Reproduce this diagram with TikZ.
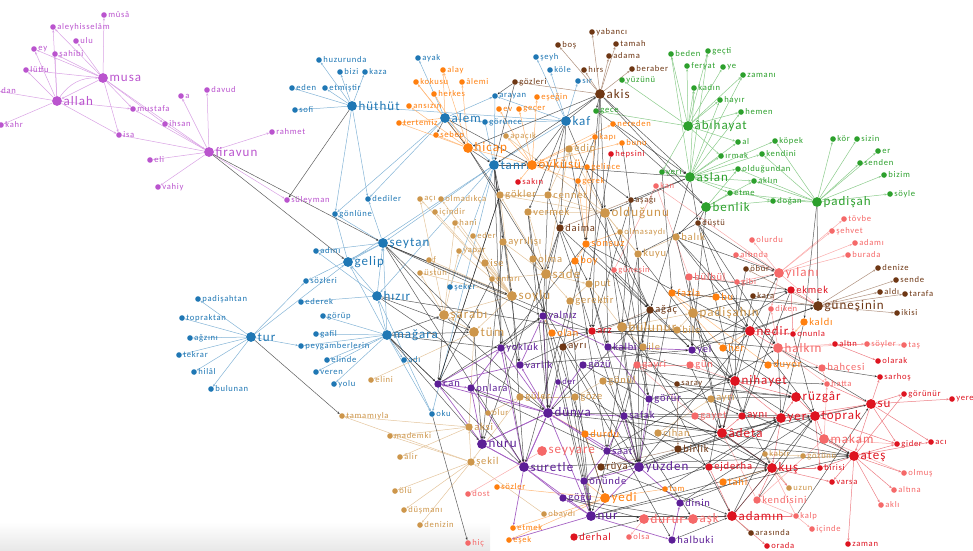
\documentclass[tikz,border=0pt]{standalone}
\usepackage{fontspec}
\setmainfont{Carlito}
\newfontfamily\lblfont[LetterSpace=8]{Carlito}
\usetikzlibrary{arrows.meta}
\definecolor{cP}{RGB}{186,84,206}
\definecolor{cB}{RGB}{31,119,180}
\definecolor{cO}{RGB}{255,127,14}
\definecolor{cG}{RGB}{44,160,44}
\definecolor{cBr}{RGB}{110,55,20}
\definecolor{cT}{RGB}{205,150,75}
\definecolor{cR}{RGB}{222,20,32}
\definecolor{cK}{RGB}{245,105,105}
\definecolor{cV}{RGB}{92,30,150}
\pgfdeclarelayer{bg}\pgfsetlayers{bg,main}
\tikzset{
 dot/.style={circle,inner sep=0pt,draw=none},
 lbl/.style={inner sep=0.4pt},
 arr/.style={-{Stealth[length=2.6pt,width=2.2pt]}},
 e/.style={draw=#1!55,line width=.5pt,arr},
 ev/.style={draw=cV!45!cP!80,line width=.7pt,arr},
 d/.style={draw=black!85,line width=.5pt,draw opacity=.75,arr},
}
\newcommand\ns[5]{\node[dot,minimum size=5.6pt,fill=#4,label={[lbl,text=#4]right:\lblfont\fontsize{8.6}{9}\selectfont #5}] (#1) at (#2,#3) {};}
\newcommand\nm[5]{\node[dot,minimum size=7.4pt,fill=#4,label={[lbl,text=#4]right:\lblfont\fontsize{10.5}{11}\selectfont #5}] (#1) at (#2,#3) {};}
\newcommand\nl[5]{\node[dot,minimum size=9.8pt,fill=#4,label={[lbl,text=#4]right:\lblfont\fontsize{13}{14}\selectfont #5}] (#1) at (#2,#3) {};}
\begin{document}
\begin{tikzpicture}[x=1pt,y=-1pt,label distance=0.8pt]
\useasboundingbox (0,0) rectangle (973,550);
\clip (0,0) rectangle (973,550);
% ---------- purple
\nl{musa}{103}{78}{cP}{musa}
\nl{allah}{57}{101}{cP}{allah}
\nl{firavun}{209}{152}{cP}{firavun}
\ns{musaa}{104}{15}{cP}{mûsâ}
\ns{aley}{53}{27}{cP}{aleyhisselâm}
\ns{ulu}{76}{41}{cP}{ulu}
\ns{ey}{34}{49}{cP}{ey}
\ns{sahibi}{55}{54}{cP}{şahibi}
\ns{lutfu}{26}{70}{cP}{lütfu}
\ns{dan}{-3}{91}{cP}{dan}
\ns{kahr}{1}{125}{cP}{kahr}
\ns{pa}{181}{96}{cP}{a}
\ns{davud}{207}{90}{cP}{davud}
\ns{mustafa}{133}{109}{cP}{mustafa}
\ns{ihsan}{165}{124}{cP}{ihsan}
\ns{isa}{119}{135}{cP}{isa}
\ns{eli}{150}{160}{cP}{eli}
\ns{rahmet}{272}{132}{cP}{rahmet}
\ns{vahiy}{158}{187}{cP}{vahiy}
\ns{suleyman}{287}{200}{cP}{süleyman}
% ---------- blue
\nl{huthut}{352}{106}{cB}{hüthüt}
\ns{huzurunda}{319}{60}{cB}{huzurunda}
\ns{bizi}{340}{72}{cB}{bizi}
\ns{kaza}{365}{72}{cB}{kaza}
\ns{eden}{292}{88}{cB}{eden}
\ns{etmistir}{325}{88}{cB}{etmiştir}
\ns{sofi}{295}{110}{cB}{sofi}
\ns{ayak}{418}{58}{cB}{ayak}
\nl{alem}{445}{118}{cB}{alem}
\ns{gorunce}{485}{122}{cB}{görünce}
\ns{seyh}{536}{57}{cB}{şeyh}
\ns{kole}{550}{70}{cB}{köle}
\ns{sir}{578}{81}{cB}{sır}
\ns{arayan}{495}{96}{cB}{arayan}
\nl{kaf}{566}{121}{cB}{kaf}
\nl{tanri}{494}{165}{cB}{tanrı}
\ns{dediler}{368}{199}{cB}{dediler}
\ns{gonlune}{335}{214}{cB}{gönlüne}
\nl{seytan}{383}{243}{cB}{şeytan}
\ns{adini}{316}{251}{cB}{adını}
\nl{gelip}{348}{262}{cB}{gelip}
\ns{sozleri}{306}{281}{cB}{sözleri}
\ns{seker}{450}{287}{cB}{şeker}
\nl{hizir}{377}{296}{cB}{hızır}
\ns{ederek}{301}{302}{cB}{ederek}
\ns{gorup}{323}{316}{cB}{görüp}
\ns{gafil}{316}{334}{cB}{gafil}
\nl{magara}{387}{335}{cB}{mağara}
\nl{tur}{251}{337}{cB}{tur}
\ns{peyg}{301}{346}{cB}{peygamberlerin}
\ns{elinde}{327}{360}{cB}{elinde}
\ns{adi}{404}{360}{cB}{adı}
\ns{veren}{316}{372}{cB}{veren}
\ns{yolu}{334}{384}{cB}{yolu}
\ns{oku}{432}{414}{cB}{oku}
\ns{padisahtan}{198}{299}{cB}{padişahtan}
\ns{topraktan}{182}{318}{cB}{topraktan}
\ns{agzini}{190}{338}{cB}{ağzını}
\ns{tekrar}{179}{355}{cB}{tekrar}
\ns{hilal}{194}{372}{cB}{hilâl}
\ns{bulunan}{211}{389}{cB}{bulunan}
% ---------- orange
\ns{alay}{443}{70}{cO}{alay}
\ns{kokusu}{416}{82}{cO}{kokusu}
\ns{alemi}{462}{82}{cO}{âlemi}
\ns{herkes}{434}{94}{cO}{herkes}
\ns{ansizin}{409}{106}{cO}{ansızın}
\ns{tertemiz}{399}{123}{cO}{tertemiz}
\ns{sebep}{436}{135}{cO}{sebep}
\nl{hicap}{468}{148}{cO}{hicap}
\ns{esegin}{537}{97}{cO}{eşeğin}
\ns{ev}{499}{109}{cO}{ev}
\ns{gecer}{519}{109}{cO}{geçer}
\ns{nereden}{613}{124}{cO}{nereden}
\ns{kapi}{595}{137}{cO}{kapı}
\ns{bunu}{622}{143}{cO}{bunu}
\nl{oykusu}{532}{165}{cO}{öyküsü}
\ns{gelince}{587}{167}{cO}{gelince}
\ns{gerek}{578}{181}{cO}{gerek}
\nm{sonsuz}{586}{244}{cO}{sonsuz}
\nm{boy}{575}{261}{cO}{boy}
\nm{fazla}{672}{293}{cO}{fazla}
\nm{obu}{716}{297}{cO}{bu}
\nm{olan}{552}{333}{cO}{olan}
\nm{her}{723}{348}{cO}{her}
\nm{duyor}{768}{365}{cO}{duyor}
\nm{kaldi}{804}{322}{cO}{kaldı}
\nm{durdu}{585}{434}{cO}{durdu}
\ns{sozler}{497}{487}{cO}{sözler}
\nl{yedi}{605}{498}{cO}{yedi}
\ns{tam}{665}{489}{cO}{tam}
\nm{tahi}{723}{482}{cO}{tahi}
\ns{etmek}{513}{528}{cO}{etmek}
\ns{esek}{509}{540}{cO}{eşek}
% ---------- green
\nl{abihayat}{688}{126}{cG}{âbıhayat}
\nl{aslan}{690}{177}{cG}{aslan}
\nl{benlik}{706}{207}{cG}{benlik}
\nl{padisah}{817}{202}{cG}{padişah}
\ns{beden}{671}{54}{cG}{beden}
\ns{gecti}{708}{51}{cG}{geçti}
\ns{feryat}{687}{66}{cG}{feryat}
\ns{ye}{723}{67}{cG}{ye}
\ns{zamani}{743}{75}{cG}{zamanı}
\ns{kadin}{694}{88}{cG}{kadın}
\ns{hayir}{720}{100}{cG}{hayır}
\ns{hemen}{741}{112}{cG}{hemen}
\ns{yuzunu}{622}{80}{cG}{yüzünü}
\ns{gece}{596}{111}{cG}{gece}
\ns{al}{738}{142}{cG}{al}
\ns{kopek}{775}{141}{cG}{köpek}
\ns{irmak}{721}{156}{cG}{ırmak}
\ns{kendini}{762}{154}{cG}{kendini}
\ns{oldugundan}{738}{169}{cG}{olduğundan}
\ns{aklin}{754}{181}{cG}{aklın}
\ns{yeri}{662}{172}{cG}{yeri}
\ns{etme}{730}{193}{cG}{etme}
\ns{dogan}{773}{201}{cG}{doğan}
\ns{kor}{833}{139}{cG}{kör}
\ns{sizin}{857}{139}{cG}{sizin}
\ns{er}{878}{151}{cG}{er}
\ns{senden}{860}{163}{cG}{senden}
\ns{bizim}{884}{175}{cG}{bizim}
\ns{soyle}{890}{194}{cG}{söyle}
% ---------- brown
\nl{akis}{600}{94}{cBr}{akis}
\ns{yabanci}{592}{32}{cBr}{yabancı}
\ns{bos}{558}{45}{cBr}{boş}
\ns{tamah}{616}{44}{cBr}{tamah}
\ns{adama}{609}{56}{cBr}{adama}
\ns{hirs}{584}{70}{cBr}{hırs}
\ns{beraber}{632}{69}{cBr}{beraber}
\ns{gozleri}{515}{82}{cBr}{gözleri}
\ns{asagi}{631}{200}{cBr}{aşağı}
\ns{dustu}{698}{223}{cBr}{düştü}
\nm{daima}{560}{228}{cBr}{daima}
\nm{agac}{650}{310}{cBr}{ağaç}
\nm{bra}{563}{347}{cBr}{ayrı}
\ns{obur}{746}{269}{cBr}{öbür}
\ns{kara}{753}{296}{cBr}{kara}
\nl{gunesinin}{818}{306}{cBr}{güneşinin}
\ns{denize}{878}{268}{cBr}{denize}
\ns{sende}{896}{280}{cBr}{sende}
\ns{aldi}{880}{292}{cBr}{aldı}
\ns{tarafa}{905}{294}{cBr}{tarafa}
\ns{ikisi}{897}{313}{cBr}{ikisi}
\ns{brb}{677}{384}{cBr}{saray}
\nm{birlik}{678}{449}{cBr}{birlik}
\nm{brc}{601}{467}{cBr}{rüya}
\ns{arasinda}{751}{533}{cBr}{arasında}
% ---------- tan
\ns{apacik}{506}{136}{cT}{apaçık}
\nm{edip}{569}{149}{cT}{edip}
\nm{gokler}{500}{195}{cT}{gökler}
\nm{cennet}{548}{195}{cT}{cennet}
\nm{vermek}{528}{212}{cT}{vermek}
\nl{oldugunu}{605}{213}{cT}{olduğunu}
\ns{olmasaydi}{620}{232}{cT}{olmasaydı}
\nm{ayrilis}{503}{242}{cT}{ayrılışı}
\nm{balik}{676}{237}{cT}{balık}
\nm{kuyu}{638}{254}{cT}{kuyu}
\nm{olant}{533}{259}{cT}{olma}
\nl{sade}{546}{274}{cT}{sade}
\ns{onlari}{492}{279}{cT}{onları}
\nm{put}{589}{284}{cT}{put}
\nl{soylu}{512}{296}{cT}{soylu}
\nm{gerektir}{570}{301}{cT}{gerektir}
\nl{padisahin}{693}{313}{cT}{padişahın}
\nl{bulunur}{622}{327}{cT}{bulunur}
\nm{ta}{677}{330}{cT}{bile}
\nm{tb}{643}{347}{cT}{ile}
\ns{aci}{420}{199}{cT}{açı}
\ns{olmadikca}{441}{199}{cT}{olmadıkça}
\ns{icindir}{435}{212}{cT}{içindir}
\ns{hani}{455}{223}{cT}{hani}
\ns{et}{473}{236}{cT}{eder}
\ns{yapar}{459}{251}{cT}{yapar}
\ns{ft}{429}{260}{cT}{f}
\ns{ustun}{420}{273}{cT}{üstün}
\nm{tc}{485}{263}{cT}{ise}
\nl{sarabi}{444}{315}{cT}{şarabı}
\nl{td}{474}{332}{cT}{tüm}
\ns{elini}{371}{380}{cT}{elini}
\ns{tamamiyla}{342}{416}{cT}{tamamıyla}
\nm{te}{469}{427}{cT}{aksi}
\ns{mademki}{390}{436}{cT}{mademki}
\ns{alir}{400}{457}{cT}{âlir}
\nm{tf}{471}{462}{cT}{şekil}
\ns{olu}{395}{491}{cT}{ölü}
\ns{dusmani}{404}{510}{cT}{düşmanı}
\ns{denizin}{420}{525}{cT}{denizin}
\nm{tg}{603}{381}{cT}{gönül}
\nm{guler}{520}{397}{cT}{güler}
\nm{th}{575}{397}{cT}{göze}
\nm{ti}{711}{399}{cT}{ayrı}
\ns{tj}{488}{413}{cT}{olur}
\nm{tk}{658}{433}{cT}{cihan}
\ns{obaydi}{544}{514}{cT}{obaydı}
\ns{kabir}{765}{454}{cT}{kabir}
\ns{gozunu}{803}{456}{cT}{gözünü}
\ns{uzun}{789}{488}{cT}{uzun}
% ---------- red
\ns{hepsini}{611}{154}{cR}{hepsini}
\ns{sakin}{518}{182}{cR}{sakın}
\nm{arz}{592}{331}{cR}{arz}
\nl{nedir}{750}{331}{cR}{nedir}
\nm{ekmek}{791}{290}{cR}{ekmek}
\ns{onunla}{793}{334}{cR}{onunla}
\ns{altin}{835}{344}{cR}{altın}
\ns{olarak}{878}{361}{cR}{olarak}
\nl{nihayet}{735}{381}{cR}{nihayet}
\ns{sarhos}{880}{377}{cR}{sarhoş}
\ns{gorunur}{904}{394}{cR}{görünür}
\ns{yere}{952}{399}{cR}{yere}
\nl{ruzgar}{796}{397}{cR}{rüzgâr}
\nl{su}{871}{404}{cR}{su}
\nm{ayni}{742}{416}{cR}{aynı}
\nl{yer}{781}{418}{cR}{yer}
\nl{toprak}{815}{416}{cR}{toprak}
\nl{adeta}{722}{433}{cR}{âdeta}
\ns{gider}{897}{444}{cR}{gider}
\ns{acir}{931}{442}{cR}{acı}
\nl{ates}{854}{456}{cR}{ateş}
\nm{ejderha}{709}{467}{cR}{ejderha}
\nl{kus}{772}{468}{cR}{kuş}
\ns{birisi}{820}{468}{cR}{birisi}
\ns{varsa}{832}{482}{cR}{varsa}
\nl{adamin}{732}{516}{cR}{adamın}
\ns{zaman}{848}{544}{cR}{zaman}
\ns{orada}{767}{546}{cR}{orada}
\nm{derhal}{574}{537}{cR}{derhal}
% ---------- pink
\ns{kan}{656}{186}{cK}{kan}
\ns{gunesin}{614}{270}{cK}{güneşin}
\nm{bulbul}{689}{277}{cK}{bülbül}
\ns{tovbe}{844}{219}{cK}{tövbe}
\ns{sehvet}{832}{231}{cK}{şehvet}
\ns{olurdu}{752}{240}{cK}{olurdu}
\ns{adami}{855}{243}{cK}{adamı}
\ns{altinda}{736}{255}{cK}{altında}
\ns{burada}{848}{255}{cK}{burada}
\nl{yilani}{779}{273}{cK}{yılanı}
\ns{gibi}{737}{282}{cK}{gibi}
\ns{diken}{771}{309}{cK}{diken}
\ns{soyler}{867}{344}{cK}{söyler}
\ns{tas}{904}{345}{cK}{taş}
\nl{halkin}{778}{348}{cK}{halkın}
\nm{bahcesi}{822}{368}{cK}{bahçesi}
\ns{hatta}{827}{384}{cK}{hatta}
\nl{makam}{824}{439}{cK}{makam}
\ns{olmus}{904}{473}{cK}{olmuş}
\ns{altina}{894}{490}{cK}{altına}
\nm{kendisini}{757}{500}{cK}{kendisini}
\ns{akli}{881}{505}{cK}{aklı}
\ns{kalp}{796}{516}{cK}{kalp}
\ns{icinde}{812}{529}{cK}{içinde}
\nm{ka}{637}{365}{cK}{gayri}
\nm{kb}{690}{365}{cK}{gün}
\nm{gayet}{695}{416}{cK}{gayet}
\nl{seyyare}{542}{451}{cK}{seyyare}
\ns{dost}{468}{494}{cK}{dost}
\ns{kc}{468}{543}{cK}{hiç}
\nl{kd}{644}{519}{cK}{durur}
\nl{ask}{693}{519}{cK}{aşk}
\ns{ke}{629}{537}{cK}{olsa}
% ---------- violet
\nm{yalniz}{543}{316}{cV}{yalnız}
\nm{yokluk}{501}{348}{cV}{yokluk}
\nm{vkalp}{608}{347}{cV}{kalbi}
\nm{yel}{692}{350}{cV}{yel}
\nm{can}{438}{384}{cV}{can}
\nm{onlara}{471}{388}{cV}{onlara}
\nm{varlik}{520}{365}{cV}{varlık}
\nm{vg}{583}{365}{cV}{gözü}
\ns{der}{558}{382}{cV}{der}
\nm{gorur}{649}{399}{cV}{görür}
\nl{dunya}{548}{413}{cV}{dünya}
\nm{satag}{624}{416}{cV}{şafak}
\nl{nuru}{482}{444}{cV}{nuru}
\nm{sagat}{607}{451}{cV}{saat}
\nl{suretle}{524}{467}{cV}{suretle}
\nl{yuzden}{639}{467}{cV}{yüzden}
\nm{onunde}{584}{481}{cV}{önünde}
\nm{vh}{563}{498}{cV}{göğü}
\nm{onun}{680}{503}{cV}{dinin}
\nl{nur}{591}{516}{cV}{nur}
\nm{halbuki}{672}{540}{cV}{halbuki}
% ================= edges
\begin{pgfonlayer}{bg}
\shade[top color=white,bottom color=black!9] (0,522) rectangle (490,550);
\draw[e=cP] (allah) to[bend left=28] (musa);
\foreach \a/\b in {allah/ey,allah/lutfu,allah/sahibi,allah/aley,allah/dan,allah/kahr,allah/mustafa,allah/isa,musa/musaa,musa/ulu,musa/aley,musa/sahibi,musa/ey,musa/lutfu,musa/mustafa,musa/ihsan,musa/isa,musa/firavun,musa/allah,firavun/pa,firavun/davud,firavun/ihsan,firavun/isa,firavun/eli,firavun/rahmet,firavun/vahiy,firavun/suleyman,firavun/mustafa}
  \draw[e=cP] (\a) -- (\b);
\foreach \a/\b in {huthut/huzurunda,huthut/bizi,huthut/kaza,huthut/eden,huthut/etmistir,huthut/sofi,huthut/dediler,huthut/gonlune,huthut/kaf,alem/ayak,alem/gorunce,alem/arayan,alem/tanri,alem/gonlune,alem/dediler,kaf/seyh,kaf/kole,kaf/sir,kaf/gorunce,kaf/arayan,kaf/tanri,tanri/gelip,tanri/seker,tanri/oku,tanri/seytan,tanri/hizir,seytan/dediler,seytan/gonlune,seytan/adini,seytan/gelip,seytan/sozleri,hizir/gelip,hizir/seytan,hizir/ederek,hizir/adini,magara/gorup,magara/gafil,magara/peyg,magara/elinde,magara/hizir,magara/gelip,magara/adi,magara/veren,magara/yolu,magara/seytan,tur/padisahtan,tur/topraktan,tur/agzini,tur/tekrar,tur/hilal,tur/bulunan,tur/peyg,tur/sozleri,tur/gelip,gelip/gonlune,hizir/oku,magara/oku,gorunce/tanri,arayan/tanri}
  \draw[e=cB] (\a) -- (\b);
\foreach \a/\b in {hicap/alay,hicap/kokusu,hicap/alemi,hicap/herkes,hicap/ansizin,hicap/tertemiz,hicap/sebep,alem/alay,alem/kokusu,alem/tertemiz,oykusu/esegin,oykusu/ev,oykusu/gecer,oykusu/apacik,oykusu/gerek,oykusu/gelince,oykusu/kapi,oykusu/bunu,oykusu/nereden,oykusu/hicap,oykusu/sakin,sonsuz/kapi,sonsuz/gerek,sonsuz/boy,sonsuz/gelince,sonsuz/olmasaydi,yedi/sozler,yedi/etmek,yedi/esek,yedi/durdu,yedi/tam,yedi/onunde,kaldi/onunla,fazla/her,fazla/obu,fazla/duyor,tahi/kus,durdu/dunya,olan/yalniz,her/nedir}
  \draw[e=cO] (\a) -- (\b);
\foreach \a/\b in {oldugunu/olmasaydi,oldugunu/cennet,oldugunu/vermek,oldugunu/kuyu,oldugunu/gokler,oldugunu/edip,oldugunu/apacik,sade/olant,sade/onlari,sade/ayrilis,sade/put,sade/gerektir,sade/vermek,soylu/onlari,soylu/sarabi,soylu/td,soylu/ustun,soylu/ft,soylu/yapar,soylu/hani,soylu/et,soylu/icindir,soylu/aci,soylu/olmadikca,soylu/tc,sarabi/ustun,sarabi/yapar,sarabi/hani,td/elini,td/sarabi,tf/tamamiyla,tf/olu,tf/dusmani,tf/denizin,tf/mademki,te/mademki,te/alir,te/tamamiyla,bulunur/padisahin,bulunur/tb,bulunur/put,bulunur/ta,kuyu/balik,kuyu/olmasaydi,guler/tj,guler/th,tg/th,tk/ti,kabir/gozunu,uzun/kabir,put/gerektir,cennet/gokler,edip/cennet,td/te,tf/te,guler/tf,obaydi/tf,sade/gokler,soylu/gokler,sarabi/aci,sade/edip,padisahin/ta}
  \draw[e=cT] (\a) -- (\b);
\foreach \a/\b in {abihayat/beden,abihayat/gecti,abihayat/feryat,abihayat/ye,abihayat/zamani,abihayat/kadin,abihayat/hayir,abihayat/hemen,abihayat/yuzunu,abihayat/gece,abihayat/al,abihayat/irmak,abihayat/yeri,aslan/al,aslan/kopek,aslan/irmak,aslan/kendini,aslan/oldugundan,aslan/aklin,aslan/yeri,aslan/etme,aslan/dogan,aslan/kadin,aslan/beden,aslan/hemen,aslan/zamani,aslan/gecti,aslan/hayir,padisah/kor,padisah/sizin,padisah/er,padisah/senden,padisah/bizim,padisah/soyle,padisah/kopek,padisah/dogan,padisah/kendini,padisah/oldugundan,padisah/aklin,padisah/etme,benlik/etme,benlik/aklin,benlik/oldugundan,benlik/dogan}
  \draw[e=cG] (\a) -- (\b);
\foreach \a/\b in {akis/yabanci,akis/bos,akis/tamah,akis/adama,akis/hirs,akis/beraber,akis/gozleri,gunesinin/denize,gunesinin/sende,gunesinin/aldi,gunesinin/tarafa,gunesinin/ikisi,gunesinin/obur,gunesinin/kara,daima/asagi,agac/bra,brc/birlik,adamin/arasinda,brb/birlik}
  \draw[e=cBr] (\a) -- (\b);
\foreach \a/\b in {yilani/tovbe,yilani/sehvet,yilani/adami,yilani/burada,yilani/olurdu,yilani/altinda,yilani/gibi,yilani/diken,halkin/bahcesi,halkin/hatta,halkin/diken,halkin/soyler,makam/hatta,makam/gider,kendisini/kalp,kalp/icinde,gunesin/kan,bulbul/kan,bulbul/gibi,seyyare/dost,kd/ke,ask/kd,gayet/ka,kb/ka,altin/soyler,soyler/tas,makam/kendisini,yilani/gunesinin,halkin/altin,makam/olmus,bahcesi/hatta,kendisini/adeta,kalp/kus,ask/adamin,gayet/adeta,kb/nihayet,yilani/kan}
  \draw[e=cK] (\a) -- (\b);
\foreach \a/\b in {su/sarhos,su/gorunur,su/yere,su/gider,su/acir,su/ates,su/toprak,su/yer,su/hatta,ates/olmus,ates/altina,ates/akli,ates/zaman,ates/gider,ates/birisi,ates/varsa,ates/makam,ates/acir,ates/gorunur,toprak/makam,toprak/gider,yer/toprak,yer/ruzgar,kus/varsa,kus/birisi,kus/kendisini,kus/uzun,ruzgar/nihayet,nihayet/adeta,ayni/yer,adeta/ayni,adamin/orada,adamin/kalp,ekmek/gunesinin,ekmek/onunla,ejderha/kus,nedir/onunla,altin/olarak,yer/kus,toprak/birisi,nedir/halkin,ruzgar/toprak,kus/adamin,adeta/kus,nihayet/yer,ejderha/adamin}
  \draw[e=cR] (\a) -- (\b);
\foreach \a/\b in {dunya/can,dunya/onlara,dunya/varlik,dunya/der,dunya/nuru,dunya/suretle,dunya/satag,dunya/vg,dunya/yalniz,suretle/nuru,suretle/onunde,suretle/vh,suretle/yokluk,nur/onunde,nur/vh,nur/yuzden,nur/halbuki,nur/suretle,yuzden/satag,yuzden/sagat,yuzden/onun,yuzden/gorur,yuzden/onunde,can/onlara,onlara/yokluk,varlik/yalniz,yalniz/vkalp,vkalp/yel,yokluk/can,nuru/can,nuru/onlara,dunya/yokluk,sagat/onunde,satag/sagat,gorur/vkalp,halbuki/onun,nur/dunya,suretle/dunya,nuru/suretle,yuzden/dunya,varlik/can,onlara/suretle,nuru/dunya,dunya/sagat,nur/esek,suretle/etmek}
  \draw[ev] (\a) -- (\b);
\foreach \a/\b in {firavun/seytan,firavun/gelip,alem/hicap,alem/sebep,hicap/tanri,hicap/gokler,hicap/sade,tanri/oykusu,tanri/gokler,tanri/ayrilis,tanri/soylu,tanri/yokluk,kaf/akis,kaf/oldugunu,kaf/daima,kaf/cennet,kaf/vermek,gozleri/arayan,gozleri/tanri,akis/gece,akis/arz,akis/benlik,akis/aslan,akis/oldugunu,akis/sonsuz,akis/hicap,gece/aslan,aslan/asagi,aslan/oldugunu,aslan/dustu,aslan/oykusu,benlik/dustu,benlik/balik,padisah/gunesinin,padisah/kaldi,dustu/kuyu,dustu/nedir,dustu/yilani,dustu/halkin,asagi/bulunur,daima/yalniz,daima/sade,daima/put,daima/agac,sonsuz/agac,sonsuz/yokluk,sonsuz/nedir,oldugunu/agac,oldugunu/yuzden,kuyu/yuzden,kuyu/tb,balik/halkin,balik/nedir,balik/yilani,bulbul/ekmek,bulbul/yel,fazla/gunesinin,fazla/yuzden,agac/yel,agac/nur,agac/dunya,agac/yuzden,seytan/soylu,seytan/sarabi,seytan/arz,seytan/td,seytan/suretle,hizir/td,hizir/dunya,magara/sarabi,magara/td,magara/suretle,magara/yokluk,tur/tamamiyla,oku/kc,can/yalniz,can/gokler,onlara/yuzden,yokluk/arz,yokluk/yalniz,varlik/arz,varlik/yel,suretle/ates,yuzden/kus,yuzden/yer,yuzden/adeta,yuzden/nedir,dunya/adeta,dunya/toprak,nur/adamin,nur/kus,nur/ates,satag/adeta,satag/yer,sagat/halkin,gorur/nihayet,gorur/ruzgar,vg/nihayet,arz/halkin,arz/yilani,arz/nedir,vkalp/nihayet,vkalp/bahcesi,yel/ekmek,yel/gunesinin,padisahin/nedir,padisahin/ekmek,nedir/yilani,nedir/gunesinin,nedir/toprak,nedir/adeta,halkin/yer,halkin/su,nihayet/ates,adeta/kus,ejderha/yer,adamin/yer,adamin/toprak,kendisini/toprak,kalp/su,bahcesi/sarhos,nihayet/hatta,gelince/asagi,gerek/agac,gokler/yokluk,cennet/arz,vermek/dunya,ayrilis/nuru,onlari/can,put/vkalp,bulunur/yuzden,gerektir/nur,sarabi/can,sade/dunya,soylu/suretle,kuyu/nihayet,yalniz/nur,olan/yedi,bra/nur,derhal/kd,vh/ask,durdu/ates,tk/kus,brc/adamin,onun/toprak,birlik/su,ti/ates,tg/ruzgar,tanri/varlik,cennet/yalniz,gokler/can,vermek/yalniz,oldugunu/vkalp,olmasaydi/gorur,kuyu/sagat,put/yuzden,sonsuz/dunya,daima/nuru,edip/sonsuz,kapi/daima,hepsini/put,nereden/benlik,bunu/kuyu,asagi/arz,aslan/agac,yeri/fazla,benlik/yel,dustu/ayni,balik/adeta,padisahin/kus,bulunur/gayet,agac/satag,arz/yuzden,yalniz/dunya,onlari/suretle,tc/varlik,td/nuru,sarabi/dunya,ayrilis/yuzden,tb/adamin,ta/nihayet,gunesin/yel,bulbul/adeta,gerektir/suretle,olant/onunde,boy/sagat,gunesin/gorur,bra/halbuki,th/nur,tg/ask,der/ejderha,vg/kus,satag/ates,sagat/toprak,onunde/yer,vh/kd,yedi/ejderha,tam/yer,brb/ruzgar,ka/ayni,gayet/kus,onun/kus,halbuki/adamin,kb/adeta,yel/nihayet,her/ruzgar,ekmek/ayni,diken/ayni,kaldi/yer,onunla/toprak,gibi/nihayet,obur/ejderha,kara/adeta,hizir/arz,seytan/yalniz,magara/can,magara/nuru,huthut/suleyman,alem/oykusu,kaf/oykusu,akis/tanri}
  \draw[d] (\a) -- (\b);
\end{pgfonlayer}
\end{tikzpicture}
\end{document}
